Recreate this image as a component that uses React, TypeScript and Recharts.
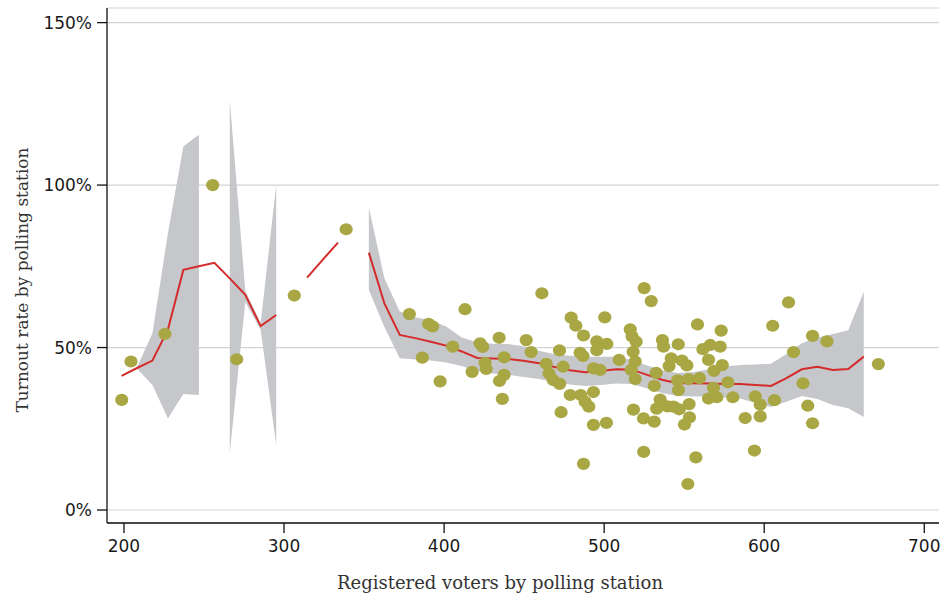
import React from 'react'
import {
  ComposedChart,
  Area,
  Line,
  Scatter,
  XAxis,
  YAxis,
  CartesianGrid
} from 'recharts'

// grid of the smoother (registered voters)
const gridX = [
  198.5, 208.2, 217.8, 227.5, 237.1, 246.8, 256.5, 266.1, 275.8, 285.4,
  295.1, 304.7, 314.4, 324.1, 333.7, 343.4, 353.0, 362.7, 372.3, 382.0,
  391.7, 401.3, 411.0, 420.7, 430.3, 440.0, 449.6, 459.3, 469.0, 478.6,
  488.3, 497.9, 507.6, 517.3, 526.9, 536.6, 546.3, 555.9, 565.6, 575.2,
  584.9, 594.6, 604.2, 613.9, 623.5, 633.2, 642.9, 652.5, 662.2
]

// fitted turnout (%), null = gap
const fitY = [
  41.3, 43.7, 46.0, 55.6, 73.9, 75.0, 76.1, 71.3, 66.2, 56.6,
  60.0, null, 71.5, 77.0, 82.3, null, 79.2, 63.6, 53.9, 52.9,
  51.8, 50.6, 48.8, 46.8, 46.6, 46.5, 45.9, 45.2, 44.0, 43.0,
  42.4, 42.8, 43.3, 43.2, 41.6, 40.0, 39.0, 39.0, 38.9, 38.8,
  38.8, 38.5, 38.2, 40.6, 43.3, 44.1, 43.1, 43.4, 47.2
]

// confidence band (%)
const bandLow = [
  null, 43.5, 38.5, 28.2, 35.7, 35.4, null, 17.5, 64.0, 55.5,
  20.0, null, null, null, null, null, 67.7, 56.3, 46.7, 46.3,
  46.0, 45.4, 44.3, 42.8, 42.0, 41.6, 40.9, 40.3, 39.4, 38.6,
  38.2, 38.5, 38.9, 38.8, 37.4, 35.9, 35.1, 34.9, 34.9, 34.6,
  34.3, 32.9, 31.7, 33.3, 35.1, 34.2, 32.3, 31.3, 28.6
]
const bandHigh = [
  null, 44.0, 54.4, 85.3, 111.9, 115.5, null, 126.2, 67.5, 57.5,
  100.0, null, null, null, null, null, 93.1, 71.3, 61.1, 59.3,
  58.4, 56.5, 53.1, 51.6, 51.2, 51.1, 50.4, 49.0, 47.9, 47.5,
  47.2, 47.2, 47.2, 46.2, 44.5, 42.9, 42.2, 42.5, 43.3, 44.2,
  44.6, 44.8, 45.0, 48.0, 51.3, 53.1, 54.2, 55.3, 67.2
]

// polling stations
const stationVoters = [
  198.6, 204.4, 225.6, 255.4, 270.4, 306.4, 338.8,
  378.3, 390.3, 392.8, 386.4, 405.4, 397.5, 413.1, 422.5, 424.1, 417.5,
  425.6, 426.3, 434.4, 437.5, 434.6, 437.5, 436.4, 451.3, 454.4, 461.1,
  463.8, 472.1, 474.4, 465.6, 468.1, 472.2, 473.1, 478.8, 479.4, 482.3,
  487.1, 485.0, 486.8, 485.4, 488.1, 490.4, 493.3, 493.3, 501.4, 487.1,
  495.4, 501.7, 495.4, 500.4, 493.3, 497.5, 509.4,
  516.3, 517.5, 520.0, 518.1, 519.4, 516.9, 519.4, 518.3,
  525.0, 529.4, 524.7, 524.6, 531.3, 536.4, 537.1, 546.3, 558.3, 573.1,
  532.5, 531.3, 541.9, 540.6, 548.6, 551.7, 545.9, 546.4, 552.7, 559.6,
  535.0, 532.8, 539.7, 543.3, 546.9, 553.1, 553.3, 550.2, 561.7, 566.3,
  572.5, 565.2, 573.8, 568.6, 565.2, 570.4, 568.3, 577.3, 580.4, 588.1,
  594.4, 597.5, 597.5, 606.4, 605.3, 615.2, 618.3, 624.2, 627.2, 630.2,
  630.2, 639.2, 671.3, 557.3, 552.3, 593.9
]
const stationTurnout = [
  33.9, 45.7, 54.2, 100.0, 46.4, 66.0, 86.4,
  60.3, 57.3, 56.5, 46.9, 50.3, 39.6, 61.8, 51.3, 50.2, 42.5,
  45.3, 43.4, 53.0, 47.0, 39.7, 41.6, 34.2, 52.3, 48.6, 66.7,
  45.0, 49.1, 44.1, 42.0, 40.0, 38.8, 30.1, 35.4, 59.2, 56.7,
  53.7, 48.4, 47.4, 35.4, 33.3, 31.8, 36.3, 26.2, 26.8, 14.2,
  51.9, 51.1, 49.2, 59.3, 43.6, 43.1, 46.2,
  55.6, 53.4, 51.8, 48.7, 45.7, 43.1, 40.3, 30.9,
  68.3, 64.3, 17.9, 28.2, 27.2, 52.3, 50.3, 51.0, 57.1, 55.2,
  42.2, 38.2, 46.7, 44.3, 46.0, 44.5, 39.9, 36.9, 40.3, 40.6,
  34.0, 31.2, 31.9, 31.8, 31.0, 32.6, 28.5, 26.3, 49.5, 50.8,
  50.3, 46.2, 44.6, 42.8, 34.3, 34.7, 37.6, 39.3, 34.7, 28.3,
  35.0, 32.4, 28.8, 33.8, 56.7, 63.9, 48.6, 39.0, 32.1, 26.7,
  53.6, 51.9, 44.9, 16.2, 8.0, 18.3
]

const xTicks = [200, 300, 400, 500, 600, 700]
const yTicks = [0, 50, 100, 150]

const fitData = gridX.map((x, i) => ({
  x,
  fit: fitY[i],
  band: bandLow[i] == null || bandHigh[i] == null ? null : [bandLow[i], bandHigh[i]]
}))

const stations = stationVoters.map((x, i) => ({ x, y: stationTurnout[i] }))

const tickStyle = { fontFamily: 'DejaVu Sans', fontSize: 17, fill: '#1a1a1a' }
const labelFont = 'DejaVu Serif'

const Dot = (props: any) => {
  if (props.cx == null || props.cy == null) return null
  return <ellipse cx={props.cx} cy={props.cy} rx={6.6} ry={6.1} fill="#a8a744" />
}

const XLabel = () => (
  <text x={500} y={589} textAnchor="middle" fontFamily={labelFont} fontSize={18} fill="#333">
    Registered voters by polling station
  </text>
)

const YLabel = () => (
  <text
    x={22}
    y={280}
    transform="rotate(-90 22 280)"
    textAnchor="middle"
    dominantBaseline="central"
    fontFamily={labelFont}
    fontSize={17}
    fill="#333"
  >
    Turnout rate by polling station
  </text>
)

export default function App() {
  return (
    <div style={{ position: 'absolute', left: 0, top: 0, background: '#fff' }}>
      <ComposedChart
        width={949}
        height={596}
        data={fitData}
        margin={{ top: 8, right: 10, bottom: 0, left: 0 }}
      >
        <CartesianGrid vertical={false} stroke="#d3d3d3" strokeWidth={1.2} />
        <XAxis
          dataKey="x"
          type="number"
          domain={[189.4, 709.2]}
          ticks={xTicks}
          allowDataOverflow
          height={73}
          tickSize={10}
          tickMargin={7}
          tick={tickStyle}
          axisLine={{ stroke: '#111', strokeWidth: 1.3 }}
          tickLine={{ stroke: '#111', strokeWidth: 1.3 }}
          label={<XLabel />}
        />
        <YAxis
          type="number"
          domain={[-4, 154.5]}
          ticks={yTicks}
          allowDataOverflow
          width={107}
          tickSize={10}
          tickMargin={5}
          tick={tickStyle}
          tickFormatter={(v: number) => `${v}%`}
          axisLine={{ stroke: '#111', strokeWidth: 1.3 }}
          tickLine={{ stroke: '#111', strokeWidth: 1.3 }}
          label={<YLabel />}
        />
        <Area
          dataKey="band"
          type="linear"
          fill="#c6c7cb"
          fillOpacity={1}
          stroke="none"
          dot={false}
          activeDot={false}
          isAnimationActive={false}
        />
        <Scatter data={stations} dataKey="y" shape={<Dot />} isAnimationActive={false} />
        <Line
          dataKey="fit"
          type="linear"
          stroke="#d42b2b"
          strokeWidth={2}
          dot={false}
          activeDot={false}
          isAnimationActive={false}
        />
      </ComposedChart>
    </div>
  )
}
